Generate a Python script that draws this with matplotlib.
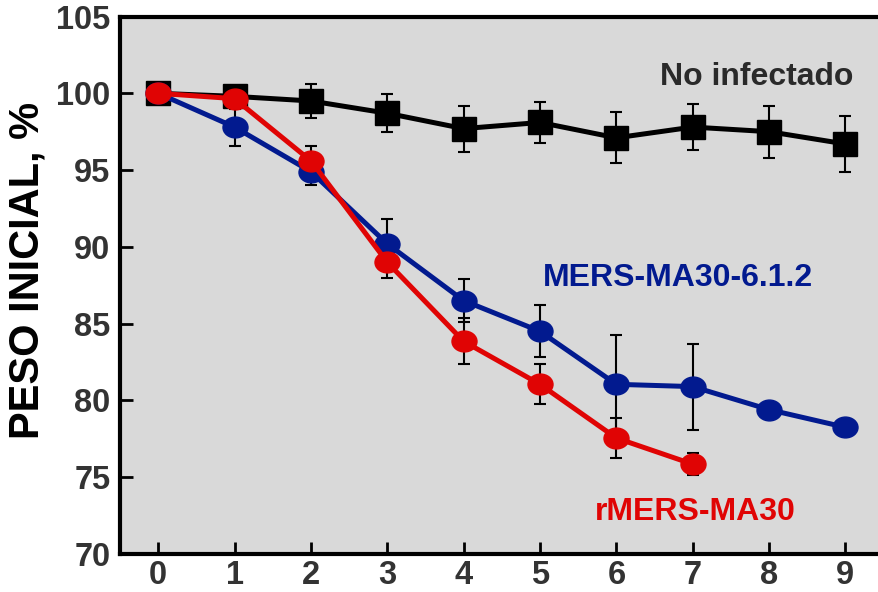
import numpy as np
import matplotlib
matplotlib.use("Agg")
import matplotlib.pyplot as plt
from matplotlib.path import Path
from matplotlib.transforms import Affine2D

plt.rcParams['font.family'] = ['Liberation Sans', 'DejaVu Sans']
plt.rcParams['font.weight'] = 'bold'

# days post infection
days = [0, 1, 2, 3, 4, 5, 6, 7, 8, 9]

# No infectado (mock)
mock = [100.0, 99.8, 99.5, 98.7, 97.7, 98.1, 97.1, 97.8, 97.5, 96.7]
mock_err = [0.0, 0.6, 1.1, 1.25, 1.5, 1.35, 1.65, 1.5, 1.7, 1.8]

# MERS-MA30-6.1.2
mers612 = [100.0, 97.8, 94.9, 90.2, 86.5, 84.5, 81.05, 80.9, 79.4, 78.25]
mers612_err = [0.0, 1.2, 0.9, 1.6, 1.4, 1.7, 3.2, 2.8, 0.0, 0.0]

# rMERS-MA30 (until day 7)
rmers_days = [0, 1, 2, 3, 4, 5, 6, 7]
rmers = [100.0, 99.65, 95.6, 89.0, 83.85, 81.05, 77.55, 75.85]
rmers_err = [0.0, 0.5, 1.0, 1.0, 1.5, 1.3, 1.3, 0.7]

BLUE = '#021a8f'
RED = '#e00404'
GREY_TXT = '#333333'

# slightly wide ellipse marker, like the original
ellipse = Affine2D().scale(1.2, 1.0).transform_path(Path.unit_circle())

fig = plt.figure(figsize=(8.79, 5.92), dpi=100)
ax = fig.add_axes([120 / 879, 38 / 592, 1 - 120 / 879, 537.5 / 592])
ax.set_facecolor('#d9d9d9')

# error bars first so markers sit on top
for x, y, e in [(days, mock, mock_err), (days, mers612, mers612_err),
                (rmers_days, rmers, rmers_err)]:
    ax.errorbar(x, y, yerr=e, fmt='none', ecolor='black', elinewidth=1.5,
                capsize=4.5, capthick=1.5, zorder=2)

ax.plot(days, mock, color='black', lw=3.6, marker='s', ms=17.5, zorder=3)
ax.plot(days, mers612, color=BLUE, lw=3.6, marker=ellipse, ms=18, zorder=4)
ax.plot(rmers_days, rmers, color=RED, lw=3.6, marker=ellipse, ms=18, zorder=5)

ax.text(7.84, 101.06, 'No infectado', color='#2a2a2a', fontsize=23,
        fontweight='bold', ha='center', va='center')
ax.text(6.81, 87.97, 'MERS-MA30-6.1.2', color=BLUE, fontsize=23,
        fontweight='bold', ha='center', va='center')
ax.text(7.03, 72.75, 'rMERS-MA30', color=RED, fontsize=23,
        fontweight='bold', ha='center', va='center')

ax.set_xlim(-0.5, 9.44)
ax.set_ylim(70, 105)
ax.set_xticks(days)
ax.set_yticks(np.arange(70, 106, 5))

ax.tick_params(direction='in', length=9, width=2, colors='black',
               labelcolor=GREY_TXT, labelsize=23.5)
ax.tick_params(axis='y', pad=7)
ax.tick_params(axis='x', pad=4)
for lab in ax.get_xticklabels() + ax.get_yticklabels():
    lab.set_fontweight('bold')

for side in ['left', 'bottom', 'top']:
    ax.spines[side].set_linewidth(3)
    ax.spines[side].set_color('black')
ax.spines['right'].set_visible(False)

ax.set_ylabel('PESO INICIAL, %', fontsize=30, fontweight='bold',
              color='black', va='center')
ax.yaxis.set_label_coords(-0.122, 0.528)

plt.savefig('out.png', dpi=100)
